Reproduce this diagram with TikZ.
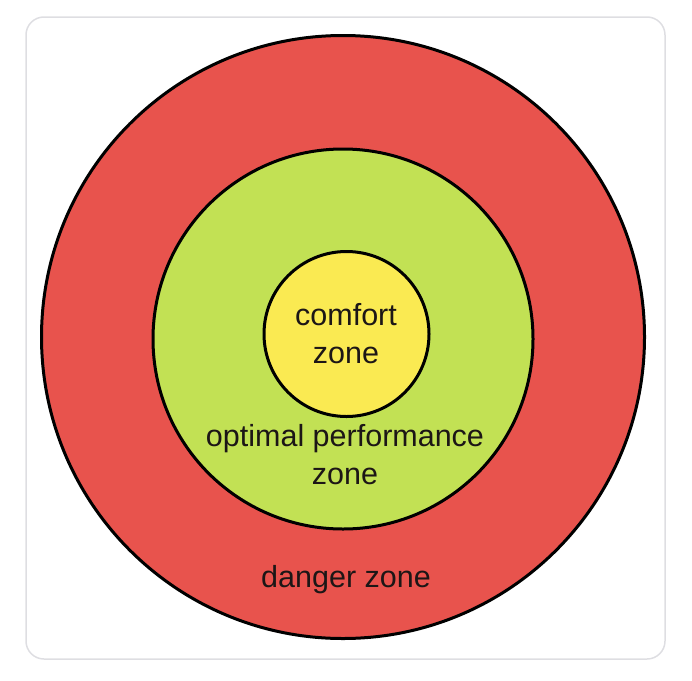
\documentclass[tikz,border=0pt]{standalone}
\usepackage{fontspec}
\setmainfont{Liberation Sans}
\usetikzlibrary{positioning}

\definecolor{dangerred}{RGB}{232,83,77}
\definecolor{optimalgreen}{RGB}{194,225,84}
\definecolor{comfortyellow}{RGB}{250,234,82}
\definecolor{framegray}{RGB}{222,222,226}
\definecolor{labelink}{RGB}{28,22,22}

\begin{document}
\begin{tikzpicture}[
    x=1pt, y=-1pt,
    zone/.style={
        circle,
        draw=black,
        line width=3pt,
        inner sep=0pt
    },
    zonelabel/.style={
        align=center,
        text=labelink,
        inner sep=0pt,
        font=\fontsize{30.5}{38}\selectfont
    }
]

    % --- Frame ---
    \useasboundingbox (0,0) rectangle (692,680);
    \draw [framegray, line width=1.5pt, rounded corners=18pt] (26,17) rectangle (665,659);

    % --- Zones (outer to inner) ---
    \node [zone, fill=dangerred, minimum size=603pt] (danger) at (343,337) {};
    \node [zone, fill=optimalgreen, minimum size=380pt] (optimal) at (343,339) {};
    \node [zone, fill=comfortyellow, minimum size=165pt] (comfort) at (346.5,334) {};

    % --- Labels ---
    \node [zonelabel] (comfortlabel) at (346,334) {comfort\\zone};
    \node [zonelabel] (optimallabel) at (345,455) {optimal performance\\zone};
    \node [zonelabel] (dangerlabel) at (346,580) {danger zone};

\end{tikzpicture}
\end{document}
